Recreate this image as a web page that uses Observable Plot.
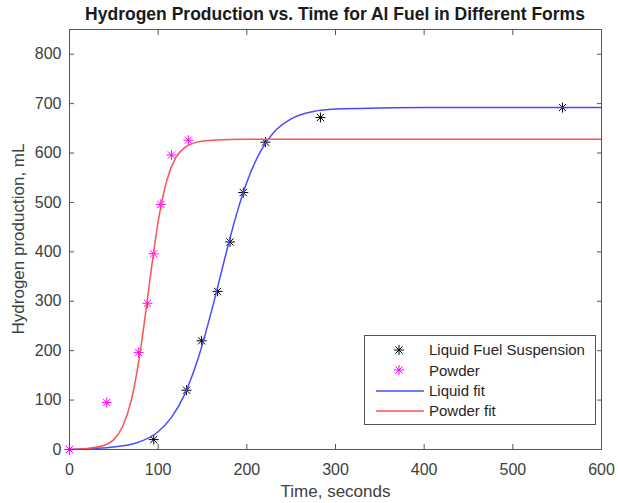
<!DOCTYPE html>
<html>
<head>
<meta charset="utf-8">
<script src="https://cdn.jsdelivr.net/npm/d3@7"></script>
<script src="https://cdn.jsdelivr.net/npm/@observablehq/plot@0.6"></script>
<style>
  html, body { margin: 0; padding: 0; background: white; }
  #wrap { position: relative; width: 618px; height: 503px; overflow: hidden; font-family: 'Liberation Sans', Arial, sans-serif; }
  #chart svg { display: block; }
  .title { position: absolute; left: 335px; top: 14.7px; transform: translate(-50%, -50%); font-weight: bold; font-size: 17.5px; line-height: 1; white-space: nowrap; color: #1a1a1a; }
  .xlabel { position: absolute; left: 335.5px; top: 490.5px; transform: translate(-50%, -50%); font-size: 17px; line-height: 1; white-space: nowrap; color: #404040; }
  .ylabel { position: absolute; left: 18.3px; top: 239px; transform: translate(-50%, -50%) rotate(-90deg); font-size: 17px; line-height: 1; white-space: nowrap; color: #404040; }
  .legend { position: absolute; left: 364px; top: 335px; width: 230px; height: 84px; border: 1px solid #555; background: white; padding-top: 3.6px; box-sizing: content-box; }
  .legend .row { display: flex; align-items: center; height: 20.4px; font-size: 15px; color: #262626; }
  .legend svg { flex: none; display: block; }
  .legend span { margin-left: 4px; white-space: nowrap; }
</style>
</head>
<body>
<div id="wrap">
  <div id="chart"></div>
  <div class="title" id="title"></div>
  <div class="xlabel" id="xlabel"></div>
  <div class="ylabel" id="ylabel"></div>
  <div class="legend" id="legend"></div>
</div>
<script>
// ---- data ----
const titleText = "Hydrogen Production vs. Time for Al Fuel in Different Forms";
const xLabelText = "Time, seconds";
const yLabelText = "Hydrogen production, mL";

const xTicks = [0, 100, 200, 300, 400, 500, 600];
const yTicks = [0, 100, 200, 300, 400, 500, 600, 700, 800];

const liquidTime = [0, 95, 132, 149, 167, 181, 196, 221, 283, 556];
const liquidH2   = [0, 20, 120, 220, 320, 420, 520, 622, 672, 692];

const powderTime = [0, 42, 78, 88, 95, 103, 115, 134];
const powderH2   = [0, 95, 196, 296, 396, 496, 596, 626];

const liquidFitTime = [0, 25, 50, 75, 100, 115, 130, 145, 160, 170, 180, 190, 200, 215, 230, 250, 275, 300, 350, 400, 600];
const liquidFitH2   = [0, 2, 5, 13, 36, 65, 112, 184, 279, 350, 421, 486, 541, 602, 641, 669, 684, 689, 691, 692, 692];

const powderFitTime = [0, 20, 40, 50, 60, 70, 75, 80, 85, 90, 95, 100, 105, 110, 120, 130, 140, 160, 200, 600];
const powderFitH2   = [0, 2, 9, 20, 47, 102, 146, 201, 265, 334, 401, 461, 509, 546, 591, 611, 620, 626, 628, 628];

const seriesNames = ["Liquid Fuel Suspension", "Powder", "Liquid fit", "Powder fit"];
// ---- end data ----

const blue = "#4a4aff";
const red = "#ff5252";
const magenta = "#ff00ff";
const axisColor = "#555555";

const zip = (xs, ys) => xs.map((x, i) => ({x, y: ys[i]}));
const liquid = zip(liquidTime, liquidH2);
const powder = zip(powderTime, powderH2);
const liquidFit = zip(liquidFitTime, liquidFitH2);
const powderFit = zip(powderFitTime, powderFitH2);

// 8-armed asterisk like MATLAB's '*'
const asterisk = {
  draw(context, size) {
    const r = Math.sqrt(size / Math.PI);
    const d = r * 0.72;
    context.moveTo(-r, 0); context.lineTo(r, 0);
    context.moveTo(0, -r); context.lineTo(0, r);
    context.moveTo(-d, -d); context.lineTo(d, d);
    context.moveTo(-d, d); context.lineTo(d, -d);
  }
};

const chart = Plot.plot({
  width: 618,
  height: 503,
  marginLeft: 69,
  marginRight: 17,
  marginTop: 29,
  marginBottom: 54,
  style: {fontFamily: "'Liberation Sans', Arial, sans-serif", fontSize: "16px", color: "#404040", background: "white"},
  x: {domain: [0, 600], label: null},
  y: {domain: [0, 850], label: null},
  marks: [
    Plot.dot(liquid, {x: "x", y: "y", symbol: asterisk, r: 5, fill: "none", stroke: "black", strokeWidth: 1}),
    Plot.dot(powder, {x: "x", y: "y", symbol: asterisk, r: 5, fill: "none", stroke: magenta, strokeWidth: 1}),
    Plot.line(liquidFit, {x: "x", y: "y", stroke: blue, strokeWidth: 1.5, curve: "monotone-x"}),
    Plot.line(powderFit, {x: "x", y: "y", stroke: red, strokeWidth: 1.5, curve: "monotone-x"}),
    Plot.axisX({anchor: "bottom", ticks: xTicks, tickSize: 0, tickPadding: 14, label: null}),
    Plot.axisX({anchor: "bottom", ticks: xTicks, tickSize: -5, tickFormat: () => "", label: null, stroke: axisColor}),
    Plot.axisX({anchor: "top", ticks: xTicks, tickSize: -5, tickFormat: () => "", label: null, stroke: axisColor}),
    Plot.axisY({anchor: "left", ticks: yTicks, tickSize: 0, tickPadding: 8, label: null}),
    Plot.axisY({anchor: "left", ticks: yTicks, tickSize: -5, tickFormat: () => "", label: null, stroke: axisColor}),
    Plot.axisY({anchor: "right", ticks: yTicks, tickSize: -5, tickFormat: () => "", label: null, stroke: axisColor}),
    Plot.frame({stroke: axisColor})
  ]
});
document.getElementById("chart").appendChild(chart);

document.getElementById("title").textContent = titleText;
document.getElementById("xlabel").textContent = xLabelText;
document.getElementById("ylabel").textContent = yLabelText;

// legend
const legend = document.getElementById("legend");
const ns = "http://www.w3.org/2000/svg";
const entries = [
  {name: seriesNames[0], kind: "marker", color: "black"},
  {name: seriesNames[1], kind: "marker", color: magenta},
  {name: seriesNames[2], kind: "line", color: blue},
  {name: seriesNames[3], kind: "line", color: red}
];
for (const e of entries) {
  const row = document.createElement("div");
  row.className = "row";
  const svg = document.createElementNS(ns, "svg");
  svg.setAttribute("width", 60);
  svg.setAttribute("height", 20);
  if (e.kind === "marker") {
    const p = document.createElementNS(ns, "path");
    p.setAttribute("d", d3.symbol(asterisk, 25 * Math.PI)());
    p.setAttribute("transform", "translate(34,10)");
    p.setAttribute("stroke", e.color);
    p.setAttribute("fill", "none");
    svg.appendChild(p);
  } else {
    const l = document.createElementNS(ns, "line");
    l.setAttribute("x1", 11); l.setAttribute("x2", 59);
    l.setAttribute("y1", 10); l.setAttribute("y2", 10);
    l.setAttribute("stroke", e.color);
    l.setAttribute("stroke-width", 1.5);
    svg.appendChild(l);
  }
  row.appendChild(svg);
  const t = document.createElement("span");
  t.textContent = e.name;
  row.appendChild(t);
  legend.appendChild(row);
}
</script>
</body>
</html>
